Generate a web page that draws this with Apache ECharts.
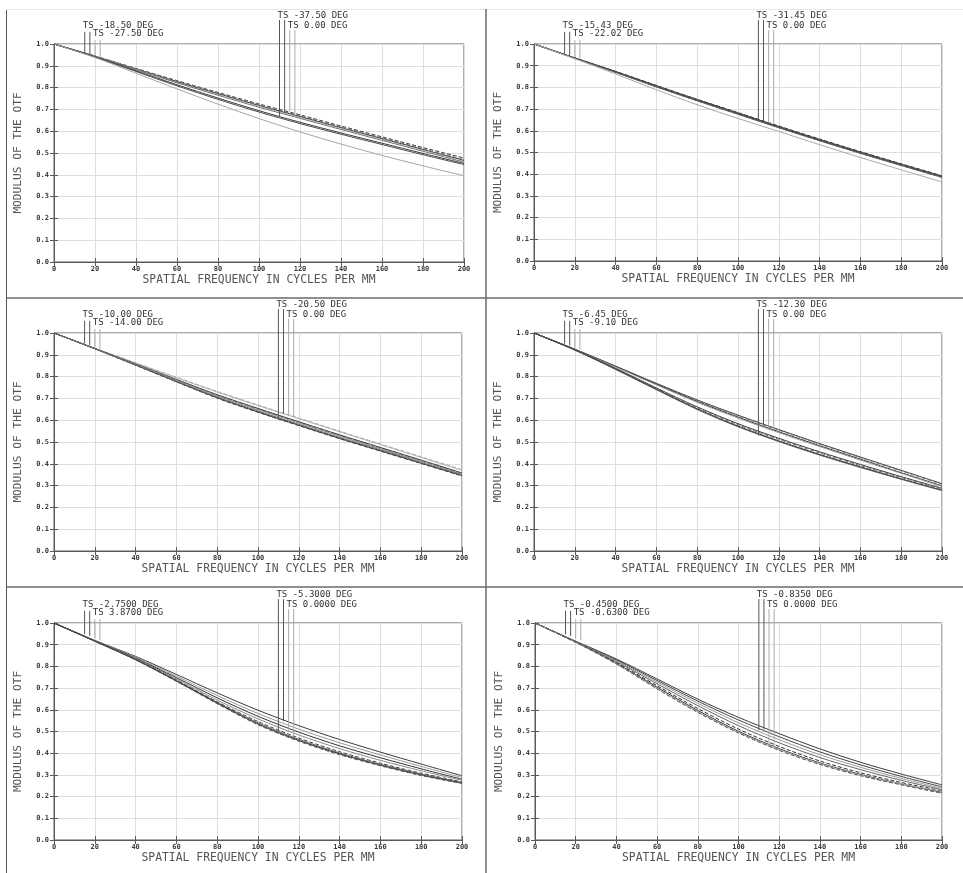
<!DOCTYPE html>
<html><head><meta charset="utf-8">
<script src="https://cdn.jsdelivr.net/npm/echarts@6/dist/echarts.min.js"></script>
<style>html,body{margin:0;padding:0;background:#fff}#c{width:963px;height:873px}</style>
</head><body><div id="c"></div>
<script>
// ---------- DATA ----------
const freq = [0, 20, 40, 60, 80, 100, 120, 140, 160, 180, 200];
const markerFreq = [15, 17.5, 20, 22.5, 110, 112.5, 115, 117.5];
const xAxisTitle = 'SPATIAL FREQUENCY IN CYCLES PER MM';
const yAxisTitle = 'MODULUS OF THE OTF';

const panel1Labels = ['TS -18.50 DEG', 'TS -27.50 DEG', 'TS -37.50 DEG', 'TS 0.00 DEG'];
const panel2Labels = ['TS -15.43 DEG', 'TS -22.02 DEG', 'TS -31.45 DEG', 'TS 0.00 DEG'];
const panel3Labels = ['TS -10.00 DEG', 'TS -14.00 DEG', 'TS -20.50 DEG', 'TS 0.00 DEG'];
const panel4Labels = ['TS -6.45 DEG', 'TS -9.10 DEG', 'TS -12.30 DEG', 'TS 0.00 DEG'];
const panel5Labels = ['TS -2.7500 DEG', 'TS 3.8700 DEG', 'TS -5.3000 DEG', 'TS 0.0000 DEG'];
const panel6Labels = ['TS -0.4500 DEG', 'TS -0.6300 DEG', 'TS -0.8350 DEG', 'TS 0.0000 DEG'];

const panel1Curves = [
  [1, 0.945, 0.888, 0.832, 0.778, 0.725, 0.675, 0.624, 0.574, 0.525, 0.477],
  [1, 0.945, 0.887, 0.830, 0.776, 0.722, 0.671, 0.620, 0.570, 0.520, 0.470],
  [1, 0.944, 0.885, 0.827, 0.772, 0.718, 0.667, 0.616, 0.566, 0.516, 0.466],
  [1, 0.944, 0.884, 0.825, 0.769, 0.715, 0.664, 0.613, 0.563, 0.513, 0.462],
  [1, 0.943, 0.882, 0.822, 0.765, 0.710, 0.659, 0.608, 0.558, 0.508, 0.458],
  [1, 0.941, 0.877, 0.813, 0.752, 0.694, 0.641, 0.592, 0.545, 0.498, 0.452],
  [1, 0.940, 0.874, 0.808, 0.746, 0.688, 0.635, 0.586, 0.539, 0.492, 0.447],
  [1, 0.938, 0.866, 0.794, 0.724, 0.658, 0.597, 0.541, 0.489, 0.441, 0.396]
];
const panel2Curves = [
  [1, 0.936, 0.874, 0.809, 0.745, 0.684, 0.622, 0.562, 0.504, 0.448, 0.393],
  [1, 0.936, 0.873, 0.808, 0.744, 0.682, 0.620, 0.560, 0.502, 0.446, 0.391],
  [1, 0.935, 0.872, 0.806, 0.742, 0.680, 0.618, 0.558, 0.500, 0.444, 0.390],
  [1, 0.935, 0.871, 0.805, 0.741, 0.679, 0.617, 0.557, 0.499, 0.443, 0.389],
  [1, 0.935, 0.871, 0.804, 0.740, 0.678, 0.616, 0.556, 0.498, 0.442, 0.388],
  [1, 0.934, 0.870, 0.803, 0.739, 0.677, 0.615, 0.555, 0.497, 0.441, 0.386],
  [1, 0.934, 0.869, 0.802, 0.738, 0.676, 0.614, 0.554, 0.496, 0.440, 0.385],
  [1, 0.932, 0.862, 0.789, 0.720, 0.657, 0.597, 0.536, 0.477, 0.420, 0.364]
];
const panel3Curves = [
  [1, 0.930, 0.863, 0.797, 0.732, 0.670, 0.610, 0.550, 0.491, 0.432, 0.373],
  [1, 0.930, 0.862, 0.795, 0.729, 0.667, 0.607, 0.547, 0.488, 0.429, 0.370],
  [1, 0.929, 0.858, 0.787, 0.717, 0.654, 0.593, 0.533, 0.475, 0.417, 0.358],
  [1, 0.929, 0.857, 0.786, 0.715, 0.652, 0.591, 0.531, 0.473, 0.415, 0.356],
  [1, 0.928, 0.853, 0.777, 0.703, 0.638, 0.577, 0.517, 0.460, 0.403, 0.346],
  [1, 0.928, 0.852, 0.776, 0.701, 0.636, 0.575, 0.515, 0.458, 0.401, 0.344],
  [1, 0.929, 0.856, 0.783, 0.711, 0.648, 0.587, 0.527, 0.469, 0.411, 0.352],
  [1, 0.928, 0.854, 0.779, 0.706, 0.642, 0.581, 0.521, 0.464, 0.406, 0.349]
];
const panel4Curves = [
  [1, 0.926, 0.848, 0.769, 0.693, 0.623, 0.557, 0.493, 0.431, 0.370, 0.309],
  [1, 0.925, 0.847, 0.767, 0.690, 0.620, 0.554, 0.490, 0.428, 0.367, 0.306],
  [1, 0.925, 0.846, 0.765, 0.686, 0.614, 0.547, 0.483, 0.421, 0.359, 0.299],
  [1, 0.924, 0.844, 0.762, 0.682, 0.610, 0.543, 0.479, 0.417, 0.356, 0.296],
  [1, 0.923, 0.838, 0.748, 0.661, 0.584, 0.517, 0.455, 0.397, 0.341, 0.288],
  [1, 0.923, 0.836, 0.745, 0.657, 0.579, 0.512, 0.450, 0.392, 0.337, 0.284],
  [1, 0.922, 0.834, 0.742, 0.652, 0.573, 0.505, 0.443, 0.386, 0.331, 0.279],
  [1, 0.922, 0.833, 0.740, 0.649, 0.570, 0.502, 0.440, 0.383, 0.329, 0.277]
];
const panel5Curves = [
  [1, 0.920, 0.846, 0.763, 0.678, 0.598, 0.527, 0.463, 0.405, 0.350, 0.296],
  [1, 0.919, 0.842, 0.755, 0.666, 0.583, 0.511, 0.448, 0.392, 0.339, 0.288],
  [1, 0.918, 0.838, 0.748, 0.655, 0.570, 0.497, 0.434, 0.379, 0.328, 0.280],
  [1, 0.918, 0.835, 0.742, 0.645, 0.558, 0.484, 0.421, 0.367, 0.319, 0.275],
  [1, 0.917, 0.833, 0.737, 0.637, 0.546, 0.470, 0.407, 0.354, 0.308, 0.268],
  [1, 0.917, 0.832, 0.735, 0.634, 0.540, 0.464, 0.401, 0.349, 0.304, 0.265],
  [1, 0.916, 0.831, 0.733, 0.631, 0.535, 0.459, 0.397, 0.345, 0.300, 0.262],
  [1, 0.916, 0.830, 0.731, 0.628, 0.531, 0.455, 0.393, 0.342, 0.297, 0.260]
];
const panel6Curves = [
  [1, 0.916, 0.834, 0.742, 0.649, 0.565, 0.490, 0.420, 0.358, 0.304, 0.254],
  [1, 0.915, 0.830, 0.735, 0.640, 0.553, 0.476, 0.406, 0.346, 0.293, 0.245],
  [1, 0.914, 0.826, 0.728, 0.630, 0.540, 0.462, 0.393, 0.335, 0.284, 0.238],
  [1, 0.913, 0.822, 0.720, 0.619, 0.527, 0.448, 0.380, 0.324, 0.275, 0.232],
  [1, 0.912, 0.817, 0.711, 0.606, 0.511, 0.431, 0.364, 0.310, 0.265, 0.227],
  [1, 0.912, 0.814, 0.704, 0.597, 0.501, 0.421, 0.355, 0.302, 0.258, 0.220],
  [1, 0.911, 0.812, 0.699, 0.591, 0.496, 0.417, 0.352, 0.299, 0.258, 0.224],
  [1, 0.911, 0.811, 0.696, 0.588, 0.493, 0.413, 0.348, 0.296, 0.254, 0.215]
];

const panel1MarkerEnds = [0.955, 0.950, 0.944, 0.938, 0.666, 0.688, 0.692, 0.672];
const panel2MarkerEnds = [0.955, 0.948, 0.940, 0.933, 0.648, 0.645, 0.637, 0.630];
const panel3MarkerEnds = [0.952, 0.945, 0.937, 0.928, 0.602, 0.630, 0.625, 0.618];
const panel4MarkerEnds = [0.950, 0.942, 0.933, 0.925, 0.529, 0.580, 0.573, 0.565];
const panel5MarkerEnds = [0.948, 0.940, 0.930, 0.920, 0.490, 0.547, 0.500, 0.480];
const panel6MarkerEnds = [0.948, 0.940, 0.930, 0.920, 0.505, 0.510, 0.435, 0.420];

// ---------- STYLE / LAYOUT ----------
const curveStyles = {
  1: [['#3c3c3c','dashed'],['#808080','dashed'],['#2e2e2e','solid'],['#a8a8a8','dashed'],['#707070','solid'],['#3a3a3a','solid'],['#4a4a4a','solid'],['#a5a5a5','solid']],
  2: [['#3a3a3a','dashed'],['#2e2e2e','solid'],['#555','solid'],['#777','dashed'],['#444','solid'],['#333','dashed'],['#666','solid'],['#a8a8a8','solid']],
  3: [['#a8a8a8','dashed'],['#b0b0b0','solid'],['#3a3a3a','solid'],['#555','dashed'],['#2e2e2e','solid'],['#444','dashed'],['#888','solid'],['#666','solid']],
  4: [['#3a3a3a','solid'],['#777','dashed'],['#2e2e2e','solid'],['#999','solid'],['#3a3a3a','solid'],['#666','dashed'],['#2e2e2e','solid'],['#555','solid']],
  5: [['#3a3a3a','solid'],['#9a9a9a','solid'],['#333','solid'],['#888','solid'],['#444','dashed'],['#666','solid'],['#2e2e2e','solid'],['#555','dashed']],
  6: [['#3a3a3a','solid'],['#444','solid'],['#9a9a9a','solid'],['#666','solid'],['#2e2e2e','dashed'],['#333','solid'],['#aaa','solid'],['#555','dashed']]
};
const markerColors = ['#555','#555','#aaa','#aaa','#555','#555','#aaa','#aaa'];
const markerTops = [1.056, 1.056, 1.018, 1.018, 1.11, 1.11, 1.064, 1.064];

const panels = [
  {curves: panel1Curves, ends: panel1MarkerEnds, labels: panel1Labels, grid: {left: 54, top: 44, width: 410, height: 218}},
  {curves: panel2Curves, ends: panel2MarkerEnds, labels: panel2Labels, grid: {left: 534, top: 44, width: 408, height: 217}},
  {curves: panel3Curves, ends: panel3MarkerEnds, labels: panel3Labels, grid: {left: 54, top: 333, width: 408, height: 218}},
  {curves: panel4Curves, ends: panel4MarkerEnds, labels: panel4Labels, grid: {left: 534, top: 333, width: 408, height: 218}},
  {curves: panel5Curves, ends: panel5MarkerEnds, labels: panel5Labels, grid: {left: 54, top: 623, width: 408, height: 217}},
  {curves: panel6Curves, ends: panel6MarkerEnds, labels: panel6Labels, grid: {left: 535, top: 623, width: 407, height: 217}}
];

const MONO = "'DejaVu Sans Mono', 'Liberation Mono', monospace";
const axisDark = '#5a5a5a';
const gridLight = '#dedede';

const chart = echarts.init(document.getElementById('c'), null, {renderer: 'canvas'});
const grid = [], xAxis = [], yAxis = [], series = [];

panels.forEach((p, i) => {
  grid.push(Object.assign({show: true, borderColor: axisDark, borderWidth: 1, backgroundColor: '#fff'}, p.grid));
  xAxis.push({
    type: 'value', gridIndex: i, min: 0, max: 200, interval: 20, position: 'bottom',
    axisLine: {show: true, lineStyle: {color: axisDark}},
    axisTick: {show: true, inside: true, length: 4, lineStyle: {color: axisDark}},
    axisLabel: {fontSize: 7, fontFamily: MONO, fontWeight: 'bold', color: '#3a3a3a', margin: 4},
    splitLine: {show: true, lineStyle: {color: gridLight}},
    name: xAxisTitle, nameLocation: 'middle', nameGap: 13,
    nameTextStyle: {fontFamily: MONO, fontSize: 11.4, color: '#555'}
  });
  xAxis.push({
    type: 'value', gridIndex: i, min: 0, max: 200, interval: 20, position: 'top',
    axisLine: {show: true, lineStyle: {color: axisDark}},
    axisTick: {show: true, inside: true, length: 4, lineStyle: {color: axisDark}},
    axisLabel: {show: false}, splitLine: {show: false}
  });
  yAxis.push({
    type: 'value', gridIndex: i, min: 0, max: 1, interval: 0.1, position: 'left',
    axisLine: {show: true, lineStyle: {color: axisDark}},
    axisTick: {show: true, inside: true, length: 4, lineStyle: {color: axisDark}},
    axisLabel: {fontSize: 7, fontFamily: MONO, fontWeight: 'bold', color: '#3a3a3a', margin: 5,
      formatter: v => v.toFixed(1)},
    splitLine: {show: true, lineStyle: {color: gridLight}},
    name: yAxisTitle, nameLocation: 'middle', nameGap: 30, nameRotate: 90,
    nameTextStyle: {fontFamily: MONO, fontSize: 11.2, color: '#555'}
  });
  yAxis.push({
    type: 'value', gridIndex: i, min: 0, max: 1, interval: 0.1, position: 'right',
    axisLine: {show: true, lineStyle: {color: axisDark}},
    axisTick: {show: true, inside: true, length: 4, lineStyle: {color: axisDark}},
    axisLabel: {show: false}, splitLine: {show: false}
  });
  const st = curveStyles[i + 1];
  p.curves.forEach((vals, k) => {
    series.push({
      type: 'line', xAxisIndex: 2 * i, yAxisIndex: 2 * i, smooth: 0.3,
      showSymbol: false, silent: true,
      data: freq.map((f, j) => [f, vals[j]]),
      lineStyle: {width: 1, color: st[k][0], type: st[k][1] === 'dashed' ? [4, 2] : 'solid'},
      z: 3
    });
  });
  markerFreq.forEach((mf, k) => {
    series.push({
      type: 'line', xAxisIndex: 2 * i, yAxisIndex: 2 * i, showSymbol: false, silent: true, clip: false,
      data: [[mf, markerTops[k]], [mf, p.ends[k]]],
      lineStyle: {width: 1, color: markerColors[k]}, z: 4
    });
  });
});

chart.setOption({animation: false, backgroundColor: '#fff', grid, xAxis, yAxis, series});

// panel frames + legend texts positioned through the axes' own scales
const g = [];
const frame = '#6a6a6a';
g.push({type: 'line', shape: {x1: 6.5, y1: 9, x2: 6.5, y2: 873}, style: {stroke: '#555', lineWidth: 1}, silent: true});
g.push({type: 'line', shape: {x1: 6, y1: 9.5, x2: 963, y2: 9.5}, style: {stroke: '#e6e6e6', lineWidth: 1}, silent: true});
g.push({type: 'line', shape: {x1: 486, y1: 9, x2: 486, y2: 873}, style: {stroke: frame, lineWidth: 1.5}, silent: true});
g.push({type: 'line', shape: {x1: 6, y1: 298, x2: 963, y2: 298}, style: {stroke: frame, lineWidth: 1.5}, silent: true});
g.push({type: 'line', shape: {x1: 6, y1: 587, x2: 963, y2: 587}, style: {stroke: frame, lineWidth: 1.5}, silent: true});

const labelAnchors = [0, 2, 4, 6];
const labelLift = [6.5, 6.5, 4, 4];
panels.forEach((p, i) => {
  p.labels.forEach((txt, k) => {
    const idx = labelAnchors[k];
    const pt = chart.convertToPixel({xAxisIndex: 2 * i, yAxisIndex: 2 * i}, [markerFreq[idx], markerTops[idx]]);
    g.push({type: 'text', x: pt[0] - 2, y: pt[1] - labelLift[k], silent: true,
      style: {text: txt, font: '9px ' + MONO, fill: '#333', verticalAlign: 'middle', align: 'left'}});
  });
});
chart.setOption({graphic: g});
</script></body></html>
